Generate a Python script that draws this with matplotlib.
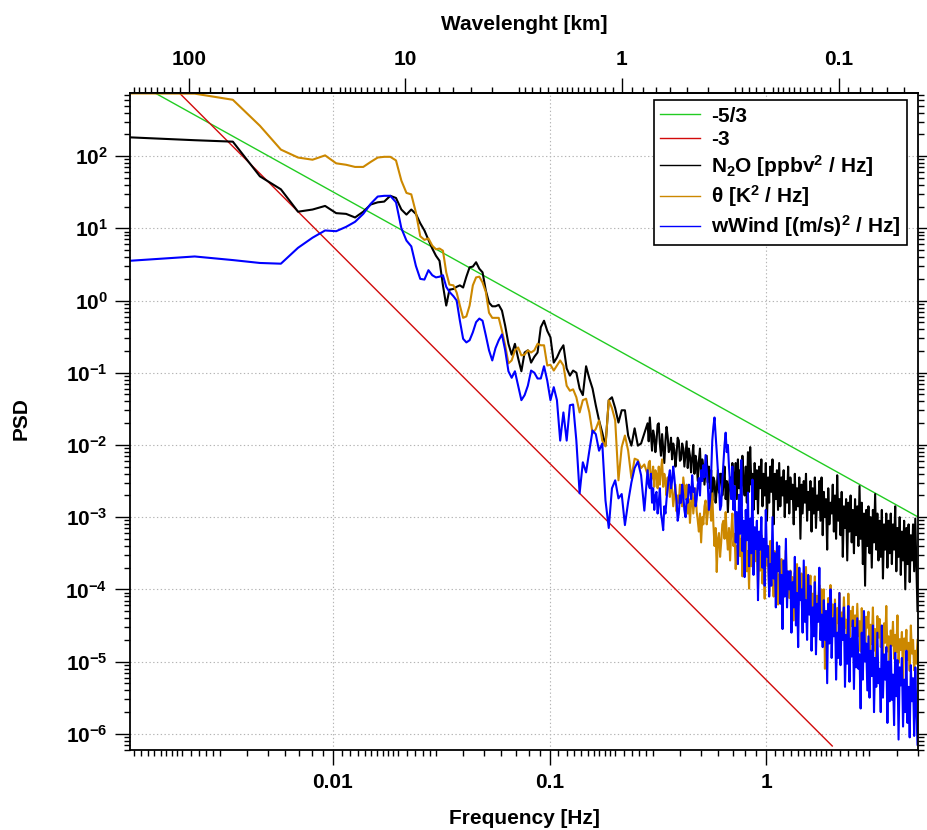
import numpy as np
import matplotlib
matplotlib.use("Agg")
import matplotlib.pyplot as plt
from matplotlib.ticker import FixedLocator, FuncFormatter, NullFormatter

# ---------------------------------------------------------------- data
# Frequency bins of the spectra [Hz]
freq = [
    0.00115, 0.0023, 0.00345, 0.0046, 0.00575, 0.0069, 0.00805, 0.0092, 0.01035, 0.0115,
    0.01265, 0.0138, 0.01495, 0.0161, 0.01725, 0.0184, 0.01955, 0.0207, 0.02185, 0.023,
    0.02415, 0.0253, 0.02645, 0.0276, 0.02875, 0.0299, 0.03105, 0.0322, 0.03335, 0.0345,
    0.0360, 0.03726, 0.03856, 0.03991, 0.04131, 0.04276, 0.04425, 0.04580, 0.04741, 0.04906,
    0.05078, 0.05256, 0.05440, 0.05630, 0.05827, 0.06031, 0.06242, 0.06461, 0.06687, 0.06921,
    0.07163, 0.07414, 0.07673, 0.07942, 0.08220, 0.08507, 0.08805, 0.09113, 0.09432, 0.09762,
    0.1010, 0.1046, 0.1082, 0.1120, 0.1159, 0.1200, 0.1242, 0.1285, 0.1330, 0.1377,
    0.1425, 0.1475, 0.1527, 0.1580, 0.1635, 0.1693, 0.1752, 0.1813, 0.1877, 0.1942,
    0.2010, 0.2081, 0.2154, 0.2229, 0.2307, 0.2388, 0.2471, 0.2558, 0.2647, 0.2740,
    0.2836, 0.2870, 0.2904, 0.2939, 0.2974, 0.3009, 0.3045, 0.3081, 0.3118, 0.3155,
    0.3193, 0.3231, 0.3270, 0.3309, 0.3348, 0.3388, 0.3429, 0.3470, 0.3511, 0.3553,
    0.3595, 0.3638, 0.3681, 0.3725, 0.3770, 0.3815, 0.3860, 0.3906, 0.3953, 0.4000,
    0.4048, 0.4096, 0.4145, 0.4194, 0.4245, 0.4296, 0.4346, 0.4398, 0.4451, 0.4504,
    0.4557, 0.4611, 0.4667, 0.4723, 0.4779, 0.4836, 0.4893, 0.4951, 0.5011, 0.5071,
    0.5131, 0.5192, 0.5254, 0.5317, 0.5380, 0.5444, 0.5509, 0.5575, 0.5642, 0.5709,
    0.5777, 0.5846, 0.5916, 0.5987, 0.6058, 0.6130, 0.6203, 0.6277, 0.6352, 0.6428,
    0.6504, 0.6582, 0.6660, 0.6739, 0.6820, 0.6901, 0.6984, 0.7067,
    0.7152, 0.7237, 0.7323, 0.7410, 0.7499, 0.7588, 0.7679, 0.7771, 0.7863, 0.7957,
    0.8052, 0.8148, 0.8245, 0.8343, 0.8443, 0.8544, 0.8646, 0.8749, 0.8853, 0.8959,
    0.9066, 0.9174, 0.9283, 0.9394, 0.9506, 0.9619, 0.9734, 0.9850, 0.9968, 1.009,
    1.021, 1.033, 1.045, 1.057, 1.070, 1.083, 1.096, 1.109, 1.122, 1.135,
    1.149, 1.163, 1.177, 1.191, 1.205, 1.219, 1.234, 1.249, 1.264, 1.279,
    1.294, 1.309, 1.325, 1.341, 1.357, 1.373, 1.389, 1.406, 1.423, 1.440,
    1.457, 1.474, 1.492, 1.510, 1.528, 1.546, 1.564, 1.583, 1.602, 1.621,
    1.640, 1.660, 1.679, 1.699, 1.720, 1.741, 1.761, 1.782, 1.803, 1.825,
    1.847, 1.869, 1.891, 1.914, 1.936, 1.959, 1.983, 2.007, 2.031, 2.055,
    2.079, 2.104, 2.129, 2.154, 2.180, 2.206, 2.233, 2.260, 2.286, 2.313,
    2.341, 2.369, 2.397, 2.426, 2.455, 2.484, 2.514, 2.544, 2.574, 2.605,
    2.636, 2.667, 2.699, 2.731, 2.764, 2.797, 2.830, 2.864, 2.898, 2.933,
    2.968, 3.003, 3.039, 3.075, 3.112, 3.149, 3.187, 3.225, 3.263, 3.302,
    3.342, 3.382, 3.422, 3.463, 3.504, 3.546, 3.588, 3.631, 3.674, 3.718,
    3.762, 3.807, 3.852, 3.898, 3.945, 3.992, 4.040, 4.088, 4.137, 4.186,
    4.236, 4.287, 4.338, 4.390, 4.442, 4.495, 4.548, 4.602, 4.658, 4.714,
    4.769, 4.826, 4.884, 4.942, 5.0,
]

# log10 of the power spectral densities, one value per frequency bin
n2o_log_psd = [
    2.26, 2.22, 2.20, 1.72, 1.54, 1.23, 1.26, 1.31, 1.21, 1.20,
    1.15, 1.23, 1.33, 1.36, 1.37, 1.45, 1.42, 1.26, 1.19, 1.26,
    1.20, 1.07, 0.97, 0.84, 0.72, 0.62, 0.55, 0.21, -0.07, 0.15,
    0.16, 0.19, 0.21, 0.18, 0.33, 0.46, 0.47, 0.53, 0.44, 0.39,
    0.14, -0.03, -0.08, -0.08, -0.06, -0.14, -0.35, -0.60, -0.75, -0.60,
    -0.80, -0.98, -0.72, -0.69, -0.86, -0.78, -0.72, -0.37, -0.28, -0.42,
    -0.51, -0.86, -0.79, -0.69, -0.62, -0.94, -1.04, -0.97, -1.00, -1.22,
    -1.31, -0.91, -1.08, -1.22, -1.45, -1.66, -1.83, -2.01, -1.38, -1.34,
    -1.49, -1.69, -1.52, -1.52, -1.87, -2.01, -1.77, -2.01, -1.98, -1.84,
    -1.70, -1.95, -1.62, -1.85, -2.08, -1.80, -1.88, -2.10, -1.95, -1.72,
    -1.70, -1.98, -2.15, -1.85, -2.05, -2.25, -1.95, -1.75, -1.88, -2.10,
    -2.05, -1.90, -2.20, -1.98, -2.07, -2.30, -2.12, -1.90, -1.94, -2.22,
    -2.20, -1.98, -2.05, -2.30, -2.12, -1.95, -2.32, -2.05, -2.15, -2.38,
    -2.18, -2.00, -2.40, -2.15, -2.25, -2.50, -2.22, -2.05, -2.45, -2.20,
    -2.30, -2.55, -2.35, -2.15, -2.52, -2.30, -2.60, -2.35, -2.77, -2.45,
    -2.50, -2.80, -2.62, -2.35, -2.66, -2.40, -2.40, -2.70, -2.55, -2.30,
    -2.75, -2.50, -2.93, -2.55, -2.45, -2.70, -2.25, -2.45,
    -2.55, -2.25, -2.75, -2.20, -2.60, -2.35, -2.85, -2.15, -2.50, -2.70,
    -2.30, -2.80, -2.10, -2.65, -2.03, -2.55, -2.40, -2.90, -2.25, -2.75,
    -2.35, -2.95, -2.30, -2.60, -2.20, -2.85, -2.40, -2.70, -2.25, -3.05,
    -2.45, -2.80, -2.30, -2.65, -2.20, -3.10, -2.40, -2.75, -2.35, -2.90,
    -2.25, -2.85, -2.45, -2.70, -2.35, -3.00, -2.50, -2.80, -2.30, -2.95,
    -2.45, -2.75, -2.55, -3.10, -2.40, -2.90, -2.60, -2.85, -2.45, -3.30,
    -2.55, -2.95, -2.50, -2.80, -2.40, -3.05, -2.65, -2.90, -2.50, -3.20,
    -2.60, -2.95, -2.45, -3.15, -2.70, -2.90, -2.50, -3.05, -2.45, -3.25,
    -2.65, -3.00, -2.75, -3.45, -2.60, -3.10, -2.80, -2.95, -2.55, -3.20,
    -2.70, -3.30, -2.42, -3.05, -2.75, -3.25, -2.65, -3.55, -2.85, -3.15,
    -2.75, -3.60, -2.80, -3.20, -2.70, -3.35, -2.90, -3.50, -2.75, -3.25,
    -2.85, -3.40, -2.57, -3.30, -2.80, -3.65, -2.95, -3.95, -2.90, -3.40,
    -2.85, -3.50, -3.00, -3.70, -2.90, -3.35, -2.68, -3.45, -2.95, -3.60,
    -3.05, -3.55, -2.90, -3.85, -3.10, -3.45, -2.95, -3.70, -3.05, -3.50,
    -2.95, -3.65, -3.10, -3.45, -2.85, -3.75, -3.15, -3.55, -3.00, -3.80,
    -3.20, -3.60, -3.05, -4.00, -3.15, -3.65, -3.10, -3.90, -3.25, -3.60,
    -3.10, -3.75, -3.02, -3.70, -4.30,
]

theta_log_psd = [
    2.868, 2.865, 2.78, 2.42, 2.09, 1.98, 1.95, 2.01, 1.90, 1.88,
    1.85, 1.85, 1.92, 1.98, 1.99, 1.99, 1.94, 1.66, 1.49, 1.47,
    1.22, 0.89, 0.84, 0.86, 0.76, 0.71, 0.72, 0.69, 0.39, 0.22,
    0.21, 0.11, -0.07, -0.24, -0.22, -0.07, 0.21, 0.32, 0.33, 0.25,
    0.12, -0.17, -0.24, -0.24, -0.24, -0.42, -0.62, -0.87, -0.83, -0.69,
    -0.65, -0.76, -0.75, -0.69, -0.72, -0.69, -0.60, -0.62, -0.62, -0.90,
    -0.89, -0.97, -0.90, -0.83, -0.90, -1.18, -1.25, -1.23, -1.34, -1.55,
    -1.38, -1.36, -1.55, -1.84, -1.78, -1.66, -1.94, -2.02, -1.38, -1.49,
    -1.66, -2.49, -2.03, -1.87, -2.08, -2.46, -2.19, -2.21, -2.32, -2.27,
    -2.41, -2.25, -2.22, -2.50, -2.45, -2.30, -2.58, -2.35, -2.40, -2.60,
    -2.30, -2.55, -2.35, -2.20, -2.58, -2.40, -2.50, -2.70, -2.45, -2.55,
    -2.72, -2.50, -2.62, -2.85, -2.70, -2.55, -2.92, -2.70, -2.80, -2.55,
    -2.65, -2.85, -2.45, -2.60, -2.75, -2.55, -2.95, -2.75, -3.08, -2.80,
    -2.62, -2.95, -2.78, -2.60, -2.92, -3.05, -3.20, -2.95, -3.35, -3.00,
    -3.10, -2.85, -2.77, -3.10, -2.95, -2.70, -2.85, -3.05, -2.67, -3.10,
    -3.40, -3.15, -3.76, -3.30, -3.22, -3.55, -3.35, -3.10, -3.05, -3.30,
    -2.93, -3.25, -3.45, -3.15, -3.60, -3.20, -2.95, -3.40,
    -3.23, -3.72, -3.40, -3.61, -2.95, -3.54, -3.30, -3.82, -3.19, -3.47,
    -3.19, -3.75, -3.47, -3.99, -3.33, -3.68, -3.12, -3.78, -3.43, -3.61,
    -3.39, -3.99, -3.50, -3.74, -3.25, -3.92, -3.60, -4.13, -3.36, -3.67,
    -3.61, -4.03, -3.33, -3.93, -3.72, -4.10, -3.47, -3.86, -3.58, -4.21,
    -3.79, -4.03, -3.58, -4.18, -3.76, -3.91, -3.46, -4.06, -3.85, -4.12,
    -3.74, -4.07, -3.83, -4.43, -3.77, -4.10, -3.65, -4.22, -3.89, -4.04,
    -3.78, -4.41, -4.02, -4.23, -3.69, -4.29, -3.90, -4.08, -3.81, -4.47,
    -4.06, -4.30, -3.82, -4.45, -4.09, -4.24, -3.94, -4.51, -4.00, -4.33,
    -4.00, -5.10, -4.30, -4.75, -4.12, -4.51, -3.94, -4.36, -4.21, -4.60,
    -4.14, -4.65, -4.26, -4.47, -4.05, -4.77, -4.32, -4.56, -4.11, -4.53,
    -4.42, -4.78, -4.06, -4.66, -4.30, -4.51, -4.24, -4.87, -4.36, -4.69,
    -4.20, -4.65, -4.44, -4.86, -4.26, -4.62, -4.32, -4.98, -4.38, -4.53,
    -4.31, -4.88, -4.49, -4.76, -4.25, -4.85, -4.55, -4.97, -4.37, -4.67,
    -4.41, -4.80, -4.59, -4.95, -4.47, -4.74, -4.23, -4.86, -4.65, -5.04,
    -4.57, -4.78, -4.45, -4.96, -4.63, -4.87, -4.36, -5.02, -4.69, -4.84,
    -4.59, -5.25, -4.68, -4.83, -4.56, -4.98, -4.74, -5.13, -4.50, -4.89,
    -4.70, -5.12, -4.85, -5.03, -4.70,
]

wwind_log_psd = [
    0.55, 0.61, 0.56, 0.52, 0.51, 0.73, 0.87, 0.97, 0.96, 1.02,
    1.09, 1.20, 1.34, 1.44, 1.45, 1.45, 1.36, 1.00, 0.83, 0.75,
    0.48, 0.30, 0.29, 0.42, 0.35, 0.32, 0.33, 0.35, 0.19, 0.12,
    0.06, 0.00, -0.28, -0.53, -0.58, -0.55, -0.44, -0.30, -0.25, -0.28,
    -0.48, -0.69, -0.83, -0.66, -0.55, -0.47, -0.69, -0.98, -1.07, -0.98,
    -1.18, -1.38, -1.31, -1.18, -0.97, -1.00, -1.08, -1.08, -0.91, -1.11,
    -1.38, -1.20, -1.38, -1.94, -1.55, -1.94, -1.45, -1.44, -1.94, -2.67,
    -2.24, -2.38, -2.08, -1.80, -1.85, -2.08, -1.98, -2.77, -3.15, -2.60,
    -2.49, -2.74, -2.68, -3.11, -2.79, -2.52, -2.32, -2.23, -2.42, -2.91,
    -2.35, -2.55, -2.60, -2.40, -2.80, -2.60, -2.90, -2.70, -2.65, -2.95,
    -2.80, -2.60, -2.95, -3.05, -3.18, -2.85, -2.95, -2.75, -2.60, -2.45,
    -2.35, -2.60, -2.50, -2.30, -2.45, -2.65, -2.77, -3.05, -2.95, -2.70,
    -2.80, -2.55, -2.70, -2.90, -3.00, -2.75, -2.80, -2.55, -2.60, -2.75,
    -2.42, -2.65, -2.60, -2.85, -2.75, -2.55, -2.46, -2.70, -2.35, -2.50,
    -2.28, -2.45, -2.14, -2.35, -2.55, -2.90, -2.77, -2.40, -1.94, -1.75,
    -1.62, -1.85, -2.10, -2.35, -2.55, -2.90, -2.84, -2.50, -2.25, -2.00,
    -1.83, -2.10, -2.00, -2.30, -2.55, -2.75, -2.30, -2.90,
    -2.57, -3.35, -2.93, -3.65, -2.69, -3.23, -2.21, -3.47, -3.05, -3.83,
    -2.90, -3.32, -2.66, -3.68, -3.02, -3.50, -2.48, -3.80, -3.14, -3.44,
    -3.05, -4.15, -3.20, -3.45, -3.00, -3.70, -3.30, -3.95, -2.90, -3.55,
    -3.40, -4.10, -3.65, -3.95, -3.00, -3.85, -3.50, -4.25, -3.35, -3.75,
    -3.40, -4.20, -3.80, -4.55, -3.60, -4.10, -3.30, -4.25, -3.75, -4.00,
    -3.75, -4.60, -3.90, -4.25, -3.55, -4.50, -4.05, -4.80, -3.70, -4.15,
    -4.00, -4.60, -3.60, -4.45, -4.15, -4.70, -3.80, -4.35, -3.95, -4.85,
    -4.25, -4.65, -3.90, -4.90, -4.20, -4.45, -3.70, -4.70, -4.35, -4.80,
    -4.15, -4.70, -4.30, -5.30, -4.20, -4.75, -4.00, -4.95, -4.40, -4.65,
    -4.20, -5.25, -4.60, -4.95, -4.05, -5.05, -4.40, -4.70, -4.25, -5.35,
    -4.63, -5.03, -4.23, -5.28, -4.68, -4.93, -4.43, -5.38, -4.53, -5.08,
    -4.40, -5.10, -4.90, -5.65, -4.60, -5.25, -4.30, -5.00, -4.75, -5.40,
    -4.65, -5.50, -4.85, -5.20, -4.50, -5.70, -4.95, -5.35, -4.60, -5.30,
    -5.10, -5.70, -4.50, -5.50, -4.90, -5.25, -4.80, -5.85, -5.00, -5.55,
    -4.78, -5.53, -5.18, -5.88, -4.88, -5.48, -4.98, -6.08, -5.08, -5.33,
    -4.95, -5.90, -5.25, -5.70, -4.85, -5.85, -5.35, -6.05, -5.05, -5.55,
    -5.23, -6.03, -5.08, -5.68, -6.15,
]

# Reference power laws (end points)
slope_53_freq = [0.00115, 5.0]
slope_53_psd = [1176.0, 1.016e-3]
slope_3_freq = [0.00115, 2.02]
slope_3_psd = [3673.0, 6.77e-7]

# Mean airspeed used to convert frequency into wavelength [km/s]
airspeed_km_s = 0.216

# ---------------------------------------------------------------- style
plt.rcParams.update({
    "font.family": ["Liberation Sans", "DejaVu Sans"],
    "font.weight": "bold",
    "axes.labelweight": "bold",
    "mathtext.fontset": "custom",
    "mathtext.rm": "Liberation Sans:bold",
    "mathtext.bf": "Liberation Sans:bold",
    "mathtext.it": "Liberation Sans:bold:italic",
    "mathtext.default": "bf",
})

W, H = 927, 830
fig = plt.figure(figsize=(W / 100, H / 100), dpi=100)
left, right, top, bottom = 129.5, 917.5, 92.7, 750.0
ax = fig.add_axes([left / W, 1 - bottom / H, (right - left) / W, (bottom - top) / H])

f = np.array(freq)
ax.plot(slope_53_freq, slope_53_psd, color="#22cc22", lw=1.0, label="-5/3")
ax.plot(slope_3_freq, slope_3_psd, color="#d20a0a", lw=1.0, label="-3")
ax.plot(f, 10 ** np.array(n2o_log_psd), color="black", lw=1.5,
        label=r"N$_{\mathbf{2}}$O [ppbv$^{\mathbf{2}}$ / Hz]")
ax.plot(f, 10 ** np.array(theta_log_psd), color="#cc8800", lw=1.5,
        label=r"θ [K$^{\mathbf{2}}$ / Hz]")
ax.plot(f, 10 ** np.array(wwind_log_psd), color="#0000ff", lw=1.5,
        label=r"wWind [(m/s)$^{\mathbf{2}}$ / Hz]")

ax.set_xscale("log")
ax.set_yscale("log")
ax.set_xlim(0.00115, 5.0)
ax.set_ylim(5.96e-7, 10 ** 2.878)

# ---------------------------------------------------------------- ticks
def minor_positions(subs, lo, hi):
    out = []
    for d in range(lo, hi):
        for s in subs:
            out.append(s * 10.0 ** d)
    return out

x_subs = [1.1, 1.2, 1.3, 1.4, 1.5, 1.6, 1.7, 1.8, 1.9, 2, 2.2, 2.4, 2.6, 2.8, 3, 4, 5, 6, 7, 8, 9]
ax.xaxis.set_major_locator(FixedLocator([0.01, 0.1, 1]))
ax.xaxis.set_major_formatter(FuncFormatter(lambda v, p: "%g" % v))
ax.xaxis.set_minor_locator(FixedLocator(minor_positions(x_subs, -3, 1)))
ax.xaxis.set_minor_formatter(NullFormatter())

ax.yaxis.set_major_locator(FixedLocator([10.0 ** k for k in range(-6, 3)]))
ax.yaxis.set_major_formatter(FuncFormatter(
    lambda v, p: r"$\mathbf{10^{%d}}$" % int(round(np.log10(v)))))
ax.yaxis.set_minor_locator(FixedLocator(minor_positions([2, 3, 4, 5, 6, 7, 8, 9], -7, 3)))
ax.yaxis.set_minor_formatter(NullFormatter())

ax.tick_params(which="both", direction="out", width=1.0, color="black",
               top=False, right=True, labelright=False)
ax.tick_params(which="major", length=10.8, labelsize=15)
ax.tick_params(which="minor", length=4.5)
ax.tick_params(axis="x", which="major", pad=6)
ax.tick_params(axis="y", which="major", pad=5)
for s in ax.spines.values():
    s.set_linewidth(1.3)

ax.grid(True, which="major", color="#b4b4b4", linestyle=(0, (1.2, 2.2)), lw=0.8)
ax.set_axisbelow(True)


# Wavelength axis along the top
def hz_to_km(x):
    x = np.asarray(x, dtype=float)
    with np.errstate(divide="ignore", invalid="ignore"):
        return airspeed_km_s / x


def km_to_hz(x):
    x = np.asarray(x, dtype=float)
    with np.errstate(divide="ignore", invalid="ignore"):
        return airspeed_km_s / x


secax = ax.secondary_xaxis("top", functions=(hz_to_km, km_to_hz))
secax.xaxis.set_major_locator(FixedLocator([0.1, 1, 10, 100]))
secax.xaxis.set_major_formatter(FuncFormatter(lambda v, p: "%g" % v))
secax.xaxis.set_minor_locator(FixedLocator(minor_positions(x_subs, -2, 3)))
secax.xaxis.set_minor_formatter(NullFormatter())
secax.tick_params(which="both", direction="out", width=1.0)
secax.tick_params(which="major", length=10.8, labelsize=15, pad=6)
secax.tick_params(which="minor", length=4.5)
secax.spines["top"].set_linewidth(1.3)

# ---------------------------------------------------------------- labels
fig.text(524 / W, 1 - 824 / H, "Frequency [Hz]", ha="center", va="baseline",
         fontsize=15, fontweight="bold")
fig.text(524 / W, 1 - 30 / H, "Wavelenght [km]", ha="center", va="baseline",
         fontsize=15, fontweight="bold")
fig.text(31 / W, 1 - 419 / H, "PSD", ha="right", va="center", rotation=90,
         fontsize=15, fontweight="bold")

leg = ax.legend(loc="upper right", bbox_to_anchor=(906.7 / W, 1 - 100.5 / H),
                bbox_transform=fig.transFigure, borderaxespad=0, frameon=True,
                fancybox=False, edgecolor="black", framealpha=1, fontsize=15,
                handlelength=1.95, handletextpad=0.5, labelspacing=0.2,
                borderpad=0.3)
leg.get_frame().set_linewidth(1.2)
for handle in leg.get_lines():
    handle.set_linewidth(1.0)

fig.savefig("out.png", dpi=100)
